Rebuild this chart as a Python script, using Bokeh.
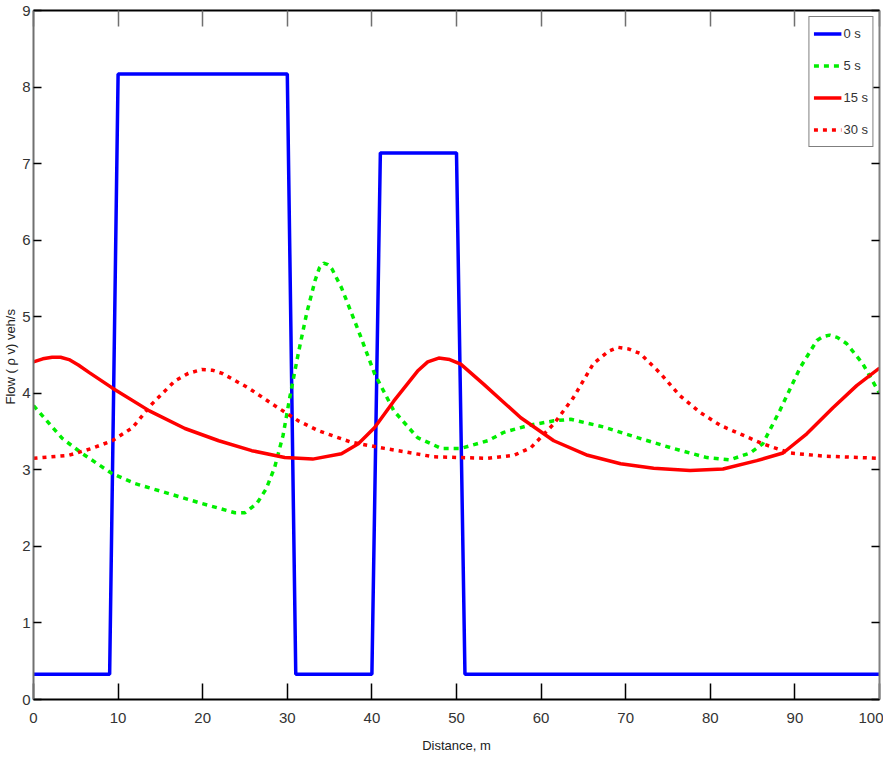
from bokeh.plotting import figure
from bokeh.models import LinearAxis, Range1d, FixedTicker, Legend, LegendItem, CustomLabelingPolicy
from bokeh.embed import file_html
from bokeh.resources import INLINE

# ---- data ----
x_0s = [0, 9, 10, 30, 31, 40, 41, 50, 51, 100]
y_0s = [0.33, 0.33, 8.17, 8.17, 0.33, 0.33, 7.14, 7.14, 0.33, 0.33]

x_5s = [0, 3.4, 5.8, 9.3, 12.0, 16.0, 19.9, 23.8, 25.0, 26.4, 27.5, 28.5, 29.5, 30.3, 31.3, 32.3, 33.3, 33.8,
        34.3, 34.8, 35.3, 36.4, 38.4, 40.3, 42.6, 45.4, 48.2, 50.5, 53.7, 55.6, 58.5, 61.5, 63.5, 67.4, 71.4,
        75.6, 79.6, 82.3, 84.7, 86.2, 88.2, 90.6, 92.6, 93.3, 94.1, 95.0, 96.1, 98.0, 100]
y_5s = [3.84, 3.41, 3.21, 2.95, 2.82, 2.69, 2.56, 2.44, 2.44, 2.56, 2.75, 3.03, 3.45, 3.95, 4.52, 5.05, 5.48, 5.64,
        5.70, 5.68, 5.62, 5.38, 4.82, 4.26, 3.77, 3.42, 3.28, 3.28, 3.38, 3.49, 3.58, 3.64, 3.66, 3.56, 3.42,
        3.28, 3.16, 3.13, 3.22, 3.34, 3.77, 4.33, 4.69, 4.74, 4.76, 4.73, 4.65, 4.39, 4.0]

x_15s = [0, 1.1, 2.2, 3.2, 4.2, 5.3, 6.6, 9.3, 13.7, 17.9, 21.9, 25.8, 29.7, 33.0, 36.4, 38.4, 40.3, 42.6,
         45.4, 46.6, 47.9, 49.2, 50.5, 53.2, 55.4, 57.6, 61.5, 65.5, 69.4, 73.3, 77.6, 81.5, 85.5, 88.6, 91.4,
         94.5, 97.3, 100]
y_15s = [4.41, 4.45, 4.47, 4.47, 4.44, 4.37, 4.27, 4.07, 3.77, 3.54, 3.38, 3.25, 3.16, 3.14, 3.21, 3.34, 3.55, 3.90,
         4.29, 4.41, 4.46, 4.44, 4.38, 4.12, 3.90, 3.68, 3.38, 3.19, 3.08, 3.02, 2.99, 3.01, 3.12, 3.22, 3.47,
         3.81, 4.10, 4.33]

x_30s = [0, 4.2, 6.9, 9.3, 11.7, 14.0, 16.7, 18.3, 19.9, 21.2, 22.3, 25.4, 28.5, 31.3, 33.7, 37.6, 41.5, 47.3,
         53.7, 56.8, 58.8, 61.5, 63.8, 66.2, 68.0, 69.1, 70.3, 71.7, 74.1, 76.4, 78.8, 81.2, 83.5, 86.2, 89.4,
         93.3, 100]
y_30s = [3.15, 3.19, 3.28, 3.38, 3.55, 3.86, 4.16, 4.26, 4.31, 4.30, 4.26, 4.07, 3.84, 3.64, 3.51, 3.36, 3.28, 3.17,
         3.15, 3.19, 3.29, 3.60, 3.94, 4.39, 4.55, 4.60, 4.58, 4.52, 4.26, 3.97, 3.75, 3.58, 3.47, 3.34, 3.22,
         3.18, 3.15]

labels = ["0 s", "5 s", "15 s", "30 s"]
x_ticks = [0, 10, 20, 30, 40, 50, 60, 70, 80, 90, 100]
y_ticks = [0, 1, 2, 3, 4, 5, 6, 7, 8, 9]

FONT = "Liberation Sans"

p = figure(frame_width=846, frame_height=689, output_backend="svg", toolbar_location=None,
           x_range=Range1d(0, 100), y_range=Range1d(0, 9),
           x_axis_label="Distance, m", y_axis_label="Flow ( ρ  v) veh/s",
           min_border_left=20, min_border_top=10, min_border_right=2, min_border_bottom=6)
p.xgrid.visible = False
p.ygrid.visible = False
p.outline_line_color = None
p.background_fill_color = "white"

# main axes
xa = p.xaxis[0]
ya = p.yaxis[0]
xa.ticker = FixedTicker(ticks=x_ticks)
ya.ticker = FixedTicker(ticks=y_ticks)
for ax, tin in ((xa, 16), (ya, 8)):
    ax.major_tick_in = tin
    ax.major_tick_out = 0
    ax.minor_tick_line_color = None
    ax.major_tick_line_width = 1.5
    ax.major_label_text_font = FONT
    ax.major_label_text_font_size = "15px"
    ax.major_label_text_color = "#333333"
    ax.axis_label_text_font = FONT
    ax.axis_label_text_font_size = "13px"
    ax.axis_label_text_font_style = "normal"
    ax.axis_label_text_color = "#222222"
xa.axis_line_color = "black"
xa.axis_line_width = 2
ya.axis_line_color = "#707070"
ya.axis_line_width = 2
xa.major_label_standoff = 13
xa.axis_label_standoff = 12
ya.major_label_standoff = 3
ya.axis_label_standoff = 1

# box axes (top/right) with inward ticks, labels hidden by policy
top = LinearAxis(ticker=FixedTicker(ticks=x_ticks), major_tick_in=16, major_tick_out=0,
                 minor_tick_line_color=None, major_label_text_font_size="1px",
                 major_label_policy=CustomLabelingPolicy(code="return []"),
                 major_label_standoff=0, axis_line_color="black", axis_line_width=2,
                 major_tick_line_color="#707070", major_tick_line_width=1.5)
right = LinearAxis(ticker=FixedTicker(ticks=y_ticks), major_tick_in=8, major_tick_out=0,
                   minor_tick_line_color=None, major_label_text_font_size="1px",
                   major_label_policy=CustomLabelingPolicy(code="return []"),
                   major_label_standoff=0, axis_line_color="#808080", axis_line_width=2,
                   major_tick_line_width=1.5)
p.add_layout(top, "above")
p.add_layout(right, "right")

r0 = p.line(x_0s, y_0s, line_color="#0000ff", line_width=3.5)
r5 = p.line(x_5s, y_5s, line_color="#00ee00", line_width=3.5, line_dash="5 5")
r15 = p.line(x_15s, y_15s, line_color="#ff0000", line_width=3.5)
r30 = p.line(x_30s, y_30s, line_color="#ff0000", line_width=3.5, line_dash="4 5")

legend = Legend(items=[LegendItem(label=labels[0], renderers=[r0]),
                       LegendItem(label=labels[1], renderers=[r5]),
                       LegendItem(label=labels[2], renderers=[r15]),
                       LegendItem(label=labels[3], renderers=[r30])],
                location="top_right")
legend.margin = 6
legend.padding = 4
legend.spacing = 7
legend.label_height = 25
legend.glyph_height = 25
legend.glyph_width = 28
legend.label_standoff = 2
legend.label_text_font = FONT
legend.label_text_font_size = "13px"
legend.label_text_color = "#333333"
legend.border_line_color = "black"
legend.border_line_width = 1.5
legend.background_fill_alpha = 1
p.add_layout(legend)

open("out.html", "w").write(file_html(p, INLINE))
